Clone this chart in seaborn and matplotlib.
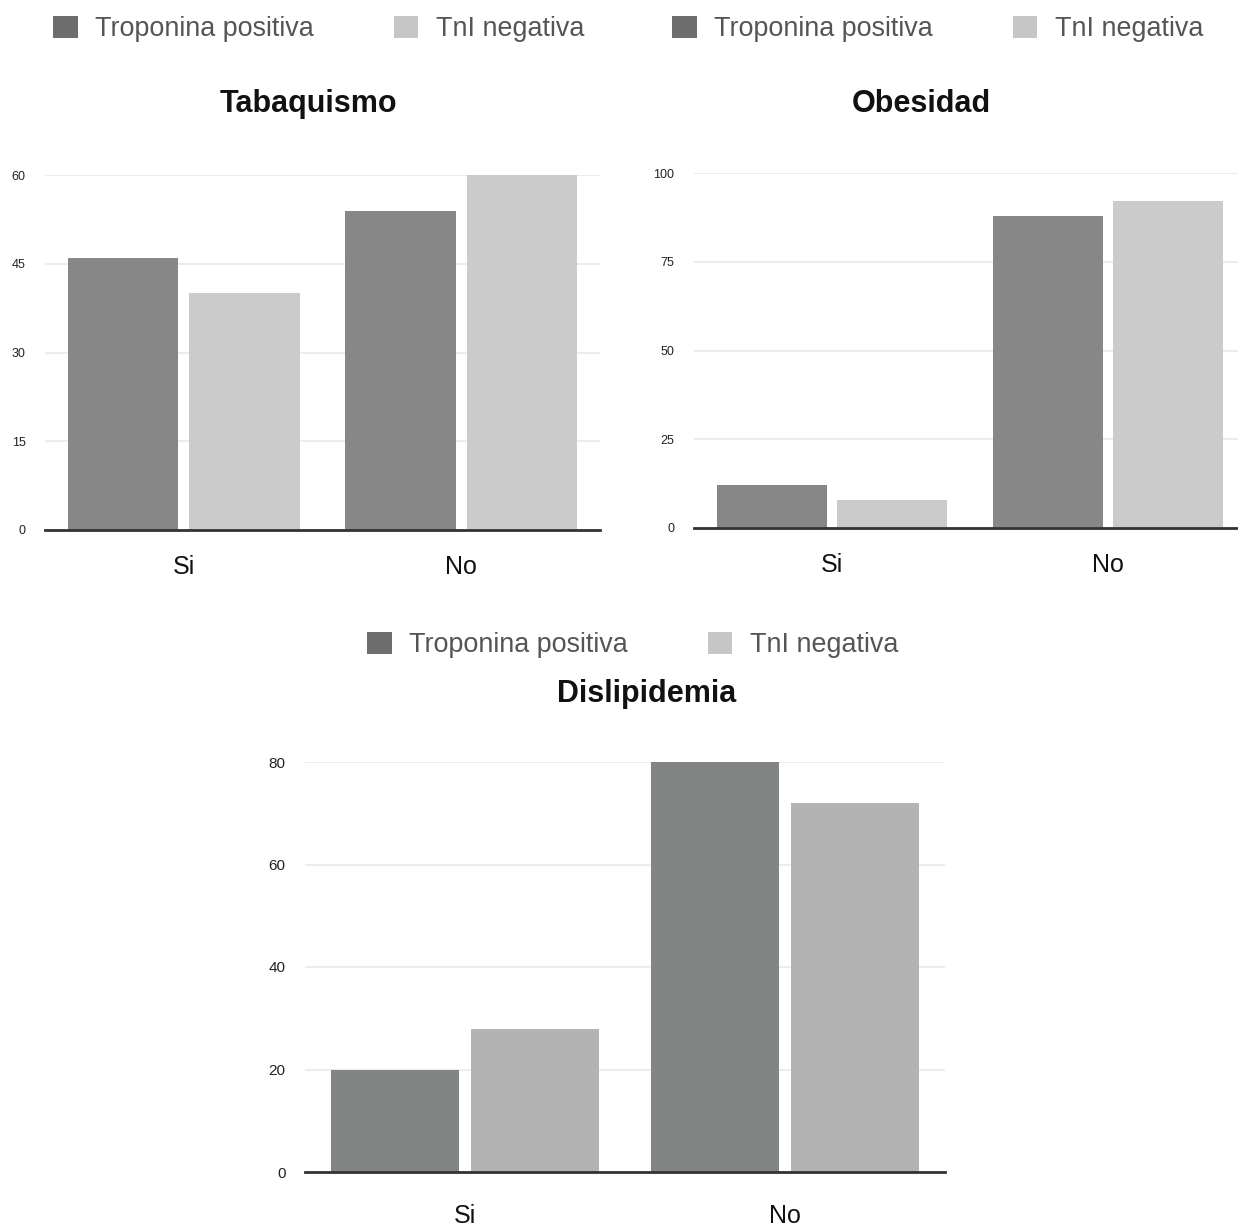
import matplotlib
matplotlib.use("Agg")
import matplotlib.pyplot as plt
import seaborn as sns
import pandas as pd

# Categories and series
categorias = ["Si", "No"]
series = ["Troponina positiva", "TnI negativa"]

# Values per panel (percent)
tabaquismo_pos = [46, 54]
tabaquismo_neg = [40, 60]
obesidad_pos = [12, 88]
obesidad_neg = [8, 92]
dislipidemia_pos = [20, 80]
dislipidemia_neg = [28, 72]

titulos = ["Tabaquismo", "Obesidad", "Dislipidemia"]
yticks_tab = [0, 15, 30, 45, 60]
yticks_obe = [0, 25, 50, 75, 100]
yticks_dis = [0, 20, 40, 60, 80]


def tabla(pos, neg):
    rows = []
    for c, p, n in zip(categorias, pos, neg):
        rows.append({"grupo": c, "serie": series[0], "valor": p})
        rows.append({"grupo": c, "serie": series[1], "valor": n})
    return pd.DataFrame(rows)


sns.set_theme(style="white")
plt.rcParams["font.family"] = ["Liberation Sans", "DejaVu Sans"]

W, H = 1238, 1228
fig = plt.figure(figsize=(W / 100, H / 100), dpi=100)
fig.patch.set_facecolor("white")


def px_axes(x0, y_top, x1, y_bot):
    return fig.add_axes([x0 / W, 1 - y_bot / H, (x1 - x0) / W, (y_bot - y_top) / H])


paneles = [
    dict(df=tabla(tabaquismo_pos, tabaquismo_neg), title=titulos[0], yticks=yticks_tab,
         box=(45, 175, 600, 530), colors=["#878787", "#cbcbcb"], ytfs=9, title_xy=(308, 104),
         leg_xy=(53, 29), xpad=18),
    dict(df=tabla(obesidad_pos, obesidad_neg), title=titulos[1], yticks=yticks_obe,
         box=(694, 173, 1246, 528), colors=["#878787", "#cbcbcb"], ytfs=9, title_xy=(921, 104),
         leg_xy=(672, 29), xpad=18),
    dict(df=tabla(dislipidemia_pos, dislipidemia_neg), title=titulos[2], yticks=yticks_dis,
         box=(305, 762, 945, 1172), colors=["#818583", "#b3b3b3"], ytfs=11, title_xy=(647, 694),
         leg_xy=(367, 645), xpad=23),
]
leg_cols = ["#6d6d6d", "#c6c6c6"]

for p in paneles:
    ax = px_axes(*p["box"])
    sns.barplot(data=p["df"], x="grupo", y="valor", hue="serie", order=categorias,
                hue_order=series, palette=p["colors"], width=0.875, gap=0.09,
                saturation=1, ax=ax, legend=False, edgecolor="none")
    ax.set_xlim(-0.5, 1.5)
    ax.set_ylim(0, p["yticks"][-1])
    ax.set_yticks(p["yticks"])
    ax.set_yticklabels([str(t) for t in p["yticks"]], fontsize=p["ytfs"], color="#222222")
    ax.tick_params(axis="y", length=0, pad=14)
    ax.tick_params(axis="x", length=0, pad=p["xpad"], labelsize=18, labelcolor="#111111")
    ax.set_xlabel("")
    ax.set_ylabel("")
    ax.yaxis.grid(True, color="#ececec", linewidth=1.5)
    ax.set_axisbelow(True)
    for s in ["left", "right", "top"]:
        ax.spines[s].set_visible(False)
    ax.spines["bottom"].set_color("#333333")
    ax.spines["bottom"].set_linewidth(2)
    ax.spines["bottom"].set_zorder(5)

    tx, ty = p["title_xy"]
    fig.text(tx / W, 1 - ty / H, p["title"], ha="center", va="center",
             fontsize=22, fontweight="bold", color="#111111")

    handles = [plt.Rectangle((0, 0), 1, 1, facecolor=c, edgecolor="none") for c in leg_cols]
    lx, ly = p["leg_xy"]
    fig.legend(handles, series, loc="center left", bbox_to_anchor=(lx / W, 1 - ly / H),
               ncol=2, frameon=False, fontsize=19.4, labelcolor="#555555",
               handlelength=0.92, handleheight=0.92, handletextpad=0.65,
               columnspacing=2.95, borderpad=0, borderaxespad=0)

fig.savefig("out.png", dpi=100, facecolor="white")
